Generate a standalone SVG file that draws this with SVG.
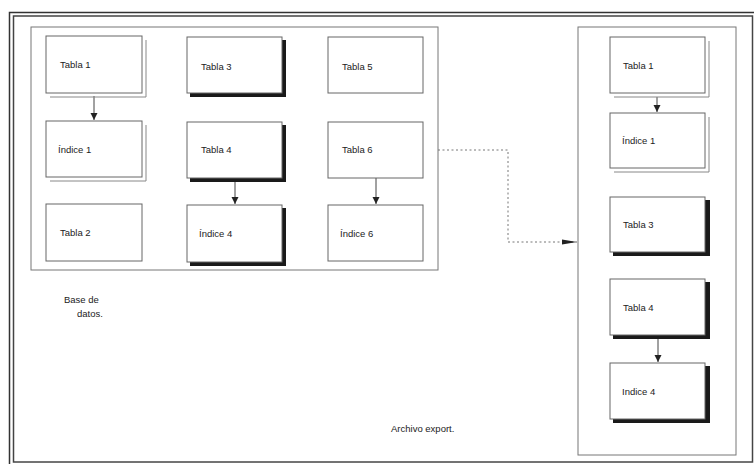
<svg xmlns="http://www.w3.org/2000/svg" width="754" height="464" viewBox="0 0 754 464">
<defs>
<style>
.t{font-family:"Liberation Sans",Arial,sans-serif;font-size:9.5px;fill:#222;}
.box{fill:#fff;stroke:#666;stroke-width:1;}
.sh2{fill:none;stroke:#888;stroke-width:1;}
.heavy{fill:#1a1a1a;stroke:none;}
.cn{stroke:#444;stroke-width:1;fill:none;}
.panel{fill:none;stroke:#777;stroke-width:1;}
</style>
<marker id="ah" markerWidth="8" markerHeight="8" refX="7" refY="4" orient="auto" markerUnits="userSpaceOnUse">
<path d="M0,0.5 L7,4 L0,7.5 Z" fill="#222"/>
</marker>
<marker id="ah2" markerWidth="16" markerHeight="8" refX="15" refY="4" orient="auto" markerUnits="userSpaceOnUse">
<path d="M0,1.5 L15,4 L0,6.5 Z" fill="#222"/>
</marker>
</defs>
<rect width="754" height="464" fill="#fff"/>
<g id="frame">
<rect x="9.5" y="12.5" width="760" height="470" fill="none" stroke="#333" stroke-width="1.5"/>
<rect x="13.5" y="16" width="739" height="446" fill="none" stroke="#444" stroke-width="1.5"/>
</g>
<g id="panel-base">
<rect class="panel" x="31" y="27" width="407" height="243"/>
</g>
<g id="panel-export">
<rect class="panel" x="578" y="27" width="158" height="428"/>
</g>
<g id="connectors">
<line class="cn" x1="94" y1="96" x2="94" y2="120" marker-end="url(#ah)"/>
<line class="cn" x1="235" y1="180" x2="235" y2="204" marker-end="url(#ah)"/>
<line class="cn" x1="376" y1="178" x2="376" y2="204" marker-end="url(#ah)"/>
<line class="cn" x1="657" y1="97" x2="657" y2="112" marker-end="url(#ah)"/>
<line class="cn" x1="658" y1="338" x2="658" y2="362" marker-end="url(#ah)"/>
<polyline points="438,150 508,150 508,242 577,242" fill="none" stroke="#777" stroke-width="1" stroke-dasharray="2,2.5" marker-end="url(#ah2)"/>
</g>
<g id="tabla1">
<polyline class="sh2" points="146,40 146,97 50,97"/>
<rect class="box" x="46" y="36" width="96" height="57"/>
<text class="t" x="60" y="68">Tabla 1</text>
</g>
<g id="indice1">
<polyline class="sh2" points="146,125 146,181 50,181"/>
<rect class="box" x="46" y="121" width="96" height="56"/>
<text class="t" x="58" y="153">Índice 1</text>
</g>
<g id="tabla2">
<rect class="box" x="46" y="204" width="96" height="57"/>
<text class="t" x="60" y="236">Tabla 2</text>
</g>
<g id="tabla3">
<rect class="heavy" x="190" y="40" width="96" height="57"/>
<rect class="box" x="187" y="37" width="95" height="56"/>
<text class="t" x="201" y="70">Tabla 3</text>
</g>
<g id="tabla4">
<rect class="heavy" x="190" y="125" width="96" height="57"/>
<rect class="box" x="187" y="122" width="95" height="56"/>
<text class="t" x="201" y="153">Tabla 4</text>
</g>
<g id="indice4">
<rect class="heavy" x="190" y="208" width="96" height="58"/>
<rect class="box" x="187" y="205" width="95" height="57"/>
<text class="t" x="199" y="237">Índice 4</text>
</g>
<g id="tabla5">
<rect class="box" x="328" y="37" width="95" height="56"/>
<text class="t" x="342" y="70">Tabla 5</text>
</g>
<g id="tabla6">
<rect class="box" x="328" y="122" width="95" height="56"/>
<text class="t" x="342" y="153">Tabla 6</text>
</g>
<g id="indice6">
<rect class="box" x="328" y="205" width="95" height="56"/>
<text class="t" x="340" y="237">Índice 6</text>
</g>
<g id="exp-tabla1">
<polyline class="sh2" points="709,41 709,97 614,97"/>
<rect class="box" x="610" y="37" width="95" height="56"/>
<text class="t" x="623" y="69">Tabla 1</text>
</g>
<g id="exp-indice1">
<polyline class="sh2" points="709,117 709,172 614,172"/>
<rect class="box" x="610" y="113" width="95" height="55"/>
<text class="t" x="622" y="144">Índice 1</text>
</g>
<g id="exp-tabla3">
<rect class="heavy" x="613" y="200" width="97" height="56"/>
<rect class="box" x="610" y="197" width="95" height="55"/>
<text class="t" x="623" y="228">Tabla 3</text>
</g>
<g id="exp-tabla4">
<rect class="heavy" x="613" y="282" width="97" height="57"/>
<rect class="box" x="610" y="279" width="95" height="56"/>
<text class="t" x="623" y="311">Tabla 4</text>
</g>
<g id="exp-indice4">
<rect class="heavy" x="613" y="366" width="97" height="57"/>
<rect class="box" x="610" y="363" width="95" height="56"/>
<text class="t" x="622" y="395">Indice 4</text>
</g>
<g id="labels">
<text class="t" x="64" y="303">Base de</text>
<text class="t" x="77" y="317">datos.</text>
<text class="t" x="391" y="432">Archivo export.</text>
</g>
</svg>
